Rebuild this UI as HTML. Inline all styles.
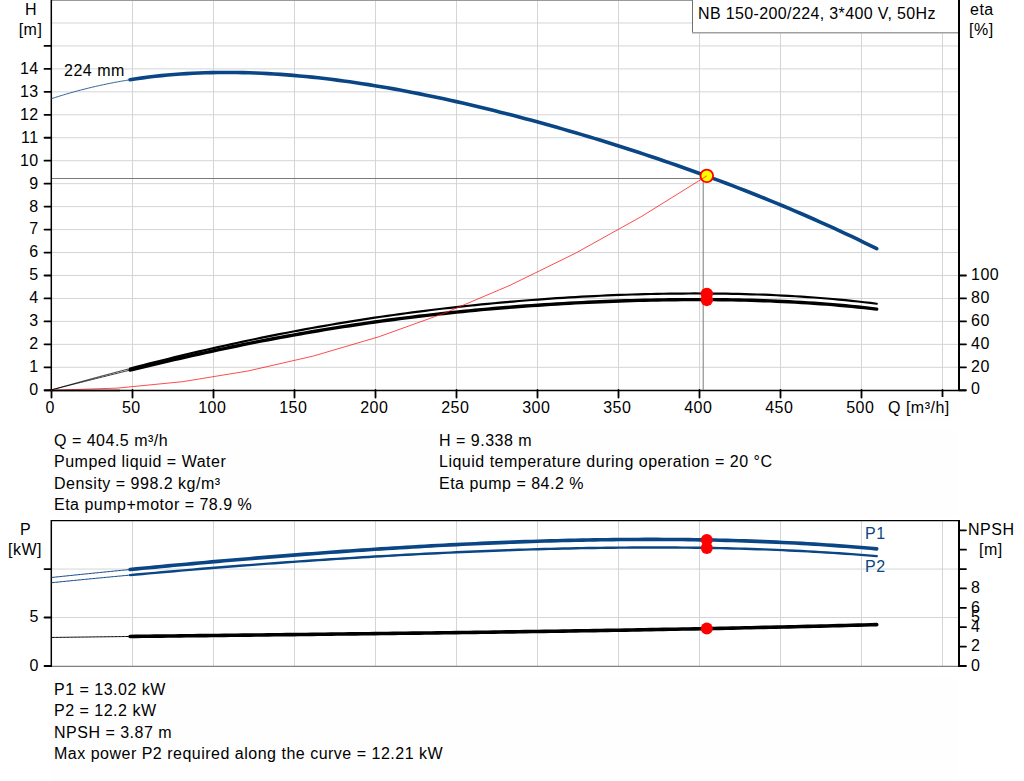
<!DOCTYPE html>
<html><head><meta charset="utf-8"><style>
html,body{margin:0;padding:0;background:#fff;width:1024px;height:781px;overflow:hidden}
svg{display:block}
text{font-family:"Liberation Sans",sans-serif;font-size:16px;letter-spacing:0.5px}
</style></head><body>
<svg width="1024" height="781" viewBox="0 0 1024 781">
<line x1="52" y1="367.31" x2="958" y2="367.31" stroke="#d3d5d7" stroke-width="1"/>
<line x1="52" y1="344.36" x2="958" y2="344.36" stroke="#d3d5d7" stroke-width="1"/>
<line x1="52" y1="321.4" x2="958" y2="321.4" stroke="#d3d5d7" stroke-width="1"/>
<line x1="52" y1="298.45" x2="958" y2="298.45" stroke="#d3d5d7" stroke-width="1"/>
<line x1="52" y1="275.49" x2="958" y2="275.49" stroke="#d3d5d7" stroke-width="1"/>
<line x1="52" y1="252.53" x2="958" y2="252.53" stroke="#d3d5d7" stroke-width="1"/>
<line x1="52" y1="229.58" x2="958" y2="229.58" stroke="#d3d5d7" stroke-width="1"/>
<line x1="52" y1="206.62" x2="958" y2="206.62" stroke="#d3d5d7" stroke-width="1"/>
<line x1="52" y1="183.67" x2="958" y2="183.67" stroke="#d3d5d7" stroke-width="1"/>
<line x1="52" y1="160.71" x2="958" y2="160.71" stroke="#d3d5d7" stroke-width="1"/>
<line x1="52" y1="137.75" x2="958" y2="137.75" stroke="#d3d5d7" stroke-width="1"/>
<line x1="52" y1="114.8" x2="958" y2="114.8" stroke="#d3d5d7" stroke-width="1"/>
<line x1="52" y1="91.84" x2="958" y2="91.84" stroke="#d3d5d7" stroke-width="1"/>
<line x1="52" y1="68.89" x2="958" y2="68.89" stroke="#d3d5d7" stroke-width="1"/>
<line x1="52" y1="45.93" x2="958" y2="45.93" stroke="#d3d5d7" stroke-width="1"/>
<line x1="52" y1="22.97" x2="692" y2="22.97" stroke="#d3d5d7" stroke-width="1"/>
<line x1="132.5" y1="1" x2="132.5" y2="390" stroke="#d3d5d7" stroke-width="1"/>
<line x1="213.5" y1="1" x2="213.5" y2="390" stroke="#d3d5d7" stroke-width="1"/>
<line x1="294.5" y1="1" x2="294.5" y2="390" stroke="#d3d5d7" stroke-width="1"/>
<line x1="375.5" y1="1" x2="375.5" y2="390" stroke="#d3d5d7" stroke-width="1"/>
<line x1="456.5" y1="1" x2="456.5" y2="390" stroke="#d3d5d7" stroke-width="1"/>
<line x1="537.5" y1="1" x2="537.5" y2="390" stroke="#d3d5d7" stroke-width="1"/>
<line x1="618.5" y1="1" x2="618.5" y2="390" stroke="#d3d5d7" stroke-width="1"/>
<line x1="699.5" y1="33" x2="699.5" y2="390" stroke="#d3d5d7" stroke-width="1"/>
<line x1="780.5" y1="33" x2="780.5" y2="390" stroke="#d3d5d7" stroke-width="1"/>
<line x1="861.5" y1="33" x2="861.5" y2="390" stroke="#d3d5d7" stroke-width="1"/>
<line x1="942.5" y1="33" x2="942.5" y2="390" stroke="#d3d5d7" stroke-width="1"/>
<line x1="51" y1="0.5" x2="959" y2="0.5" stroke="#9a9a9a" stroke-width="1"/>
<rect x="692" y="0" width="266" height="33" fill="#fff"/>
<line x1="692.5" y1="0" x2="692.5" y2="33" stroke="#707070" stroke-width="1"/>
<line x1="692" y1="32.8" x2="958" y2="32.8" stroke="#a0a0a0" stroke-width="1.4"/>
<text x="698" y="19" font-family="Liberation Sans, sans-serif" font-size="16" style="letter-spacing:0.37px">NB 150-200/224, 3*400 V, 50Hz</text>
<line x1="51.3" y1="0" x2="51.3" y2="391" stroke="#000" stroke-width="1.5"/>
<line x1="44" y1="390.5" x2="966" y2="390.5" stroke="#000" stroke-width="1.5"/>
<line x1="959" y1="0" x2="959" y2="391" stroke="#000" stroke-width="2"/>
<line x1="44.5" y1="390.27" x2="51" y2="390.27" stroke="#000" stroke-width="1.8" stroke-linecap="round"/>
<text x="38.7" y="394.60" font-family="Liberation Sans, sans-serif" font-size="16" text-anchor="end">0</text>
<line x1="44.5" y1="367.31" x2="51" y2="367.31" stroke="#000" stroke-width="1.8" stroke-linecap="round"/>
<text x="38.7" y="371.71" font-family="Liberation Sans, sans-serif" font-size="16" text-anchor="end">1</text>
<line x1="44.5" y1="344.36" x2="51" y2="344.36" stroke="#000" stroke-width="1.8" stroke-linecap="round"/>
<text x="38.7" y="348.83" font-family="Liberation Sans, sans-serif" font-size="16" text-anchor="end">2</text>
<line x1="44.5" y1="321.4" x2="51" y2="321.4" stroke="#000" stroke-width="1.8" stroke-linecap="round"/>
<text x="38.7" y="325.94" font-family="Liberation Sans, sans-serif" font-size="16" text-anchor="end">3</text>
<line x1="44.5" y1="298.45" x2="51" y2="298.45" stroke="#000" stroke-width="1.8" stroke-linecap="round"/>
<text x="38.7" y="303.06" font-family="Liberation Sans, sans-serif" font-size="16" text-anchor="end">4</text>
<line x1="44.5" y1="275.49" x2="51" y2="275.49" stroke="#000" stroke-width="1.8" stroke-linecap="round"/>
<text x="38.7" y="280.17" font-family="Liberation Sans, sans-serif" font-size="16" text-anchor="end">5</text>
<line x1="44.5" y1="252.53" x2="51" y2="252.53" stroke="#000" stroke-width="1.8" stroke-linecap="round"/>
<text x="38.7" y="257.28" font-family="Liberation Sans, sans-serif" font-size="16" text-anchor="end">6</text>
<line x1="44.5" y1="229.58" x2="51" y2="229.58" stroke="#000" stroke-width="1.8" stroke-linecap="round"/>
<text x="38.7" y="234.40" font-family="Liberation Sans, sans-serif" font-size="16" text-anchor="end">7</text>
<line x1="44.5" y1="206.62" x2="51" y2="206.62" stroke="#000" stroke-width="1.8" stroke-linecap="round"/>
<text x="38.7" y="211.51" font-family="Liberation Sans, sans-serif" font-size="16" text-anchor="end">8</text>
<line x1="44.5" y1="183.67" x2="51" y2="183.67" stroke="#000" stroke-width="1.8" stroke-linecap="round"/>
<text x="38.7" y="188.63" font-family="Liberation Sans, sans-serif" font-size="16" text-anchor="end">9</text>
<line x1="44.5" y1="160.71" x2="51" y2="160.71" stroke="#000" stroke-width="1.8" stroke-linecap="round"/>
<text x="38.7" y="165.74" font-family="Liberation Sans, sans-serif" font-size="16" text-anchor="end">10</text>
<line x1="44.5" y1="137.75" x2="51" y2="137.75" stroke="#000" stroke-width="1.8" stroke-linecap="round"/>
<text x="38.7" y="142.85" font-family="Liberation Sans, sans-serif" font-size="16" text-anchor="end">11</text>
<line x1="44.5" y1="114.8" x2="51" y2="114.8" stroke="#000" stroke-width="1.8" stroke-linecap="round"/>
<text x="38.7" y="119.97" font-family="Liberation Sans, sans-serif" font-size="16" text-anchor="end">12</text>
<line x1="44.5" y1="91.84" x2="51" y2="91.84" stroke="#000" stroke-width="1.8" stroke-linecap="round"/>
<text x="38.7" y="97.08" font-family="Liberation Sans, sans-serif" font-size="16" text-anchor="end">13</text>
<line x1="44.5" y1="68.89" x2="51" y2="68.89" stroke="#000" stroke-width="1.8" stroke-linecap="round"/>
<text x="38.7" y="74.20" font-family="Liberation Sans, sans-serif" font-size="16" text-anchor="end">14</text>
<line x1="44.5" y1="45.93" x2="51" y2="45.93" stroke="#000" stroke-width="1.8" stroke-linecap="round"/>
<text x="31" y="15" font-family="Liberation Sans, sans-serif" font-size="16" text-anchor="middle">H</text>
<text x="30.5" y="35" font-family="Liberation Sans, sans-serif" font-size="16" text-anchor="middle">[m]</text>
<line x1="51.5" y1="390" x2="51.5" y2="397.6" stroke="#000" stroke-width="1.8" stroke-linecap="round"/>
<text x="50.3" y="413" font-family="Liberation Sans, sans-serif" font-size="16" text-anchor="middle">0</text>
<line x1="132.5" y1="390" x2="132.5" y2="397.6" stroke="#000" stroke-width="1.8" stroke-linecap="round"/>
<text x="131.3" y="413" font-family="Liberation Sans, sans-serif" font-size="16" text-anchor="middle">50</text>
<line x1="213.5" y1="390" x2="213.5" y2="397.6" stroke="#000" stroke-width="1.8" stroke-linecap="round"/>
<text x="212.3" y="413" font-family="Liberation Sans, sans-serif" font-size="16" text-anchor="middle">100</text>
<line x1="294.5" y1="390" x2="294.5" y2="397.6" stroke="#000" stroke-width="1.8" stroke-linecap="round"/>
<text x="293.3" y="413" font-family="Liberation Sans, sans-serif" font-size="16" text-anchor="middle">150</text>
<line x1="375.5" y1="390" x2="375.5" y2="397.6" stroke="#000" stroke-width="1.8" stroke-linecap="round"/>
<text x="374.3" y="413" font-family="Liberation Sans, sans-serif" font-size="16" text-anchor="middle">200</text>
<line x1="456.5" y1="390" x2="456.5" y2="397.6" stroke="#000" stroke-width="1.8" stroke-linecap="round"/>
<text x="455.3" y="413" font-family="Liberation Sans, sans-serif" font-size="16" text-anchor="middle">250</text>
<line x1="537.5" y1="390" x2="537.5" y2="397.6" stroke="#000" stroke-width="1.8" stroke-linecap="round"/>
<text x="536.3" y="413" font-family="Liberation Sans, sans-serif" font-size="16" text-anchor="middle">300</text>
<line x1="618.5" y1="390" x2="618.5" y2="397.6" stroke="#000" stroke-width="1.8" stroke-linecap="round"/>
<text x="617.3" y="413" font-family="Liberation Sans, sans-serif" font-size="16" text-anchor="middle">350</text>
<line x1="699.5" y1="390" x2="699.5" y2="397.6" stroke="#000" stroke-width="1.8" stroke-linecap="round"/>
<text x="698.3" y="413" font-family="Liberation Sans, sans-serif" font-size="16" text-anchor="middle">400</text>
<line x1="780.5" y1="390" x2="780.5" y2="397.6" stroke="#000" stroke-width="1.8" stroke-linecap="round"/>
<text x="779.3" y="413" font-family="Liberation Sans, sans-serif" font-size="16" text-anchor="middle">450</text>
<line x1="861.5" y1="390" x2="861.5" y2="397.6" stroke="#000" stroke-width="1.8" stroke-linecap="round"/>
<text x="860.3" y="413" font-family="Liberation Sans, sans-serif" font-size="16" text-anchor="middle">500</text>
<line x1="942.5" y1="390" x2="942.5" y2="397.6" stroke="#000" stroke-width="1.8" stroke-linecap="round"/>
<rect x="886" y="397" width="70" height="23" fill="#fefefe"/>
<text x="888" y="413" font-family="Liberation Sans, sans-serif" font-size="16">Q [m³/h]</text>
<line x1="959" y1="390.27" x2="966" y2="390.27" stroke="#000" stroke-width="1.8" stroke-linecap="round"/>
<text x="971" y="394.47" font-family="Liberation Sans, sans-serif" font-size="16">0</text>
<line x1="959" y1="367.31" x2="966" y2="367.31" stroke="#000" stroke-width="1.8" stroke-linecap="round"/>
<text x="971" y="371.51" font-family="Liberation Sans, sans-serif" font-size="16">20</text>
<line x1="959" y1="344.36" x2="966" y2="344.36" stroke="#000" stroke-width="1.8" stroke-linecap="round"/>
<text x="971" y="348.56" font-family="Liberation Sans, sans-serif" font-size="16">40</text>
<line x1="959" y1="321.4" x2="966" y2="321.4" stroke="#000" stroke-width="1.8" stroke-linecap="round"/>
<text x="971" y="325.60" font-family="Liberation Sans, sans-serif" font-size="16">60</text>
<line x1="959" y1="298.45" x2="966" y2="298.45" stroke="#000" stroke-width="1.8" stroke-linecap="round"/>
<text x="971" y="302.65" font-family="Liberation Sans, sans-serif" font-size="16">80</text>
<line x1="959" y1="275.49" x2="966" y2="275.49" stroke="#000" stroke-width="1.8" stroke-linecap="round"/>
<text x="971" y="279.69" font-family="Liberation Sans, sans-serif" font-size="16">100</text>
<text x="970" y="15" font-family="Liberation Sans, sans-serif" font-size="16">eta</text>
<text x="969" y="35" font-family="Liberation Sans, sans-serif" font-size="16">[%]</text>
<line x1="52" y1="178.5" x2="700" y2="178.5" stroke="#7a7a7a" stroke-width="1"/>
<line x1="703.2" y1="178" x2="703.2" y2="390" stroke="#7a7a7a" stroke-width="1"/>
<path d="M51.50,98.68 L52.87,98.23 L54.25,97.79 L55.62,97.35 L56.99,96.91 L58.36,96.48 L59.74,96.05 L61.11,95.63 L62.48,95.21 L63.86,94.80 L65.23,94.39 L66.60,93.98 L67.97,93.58 L69.35,93.18 L70.72,92.79 L72.09,92.40 L73.47,92.02 L74.84,91.64 L76.21,91.26 L77.58,90.89 L78.96,90.53 L80.33,90.16 L81.70,89.81 L83.08,89.45 L84.45,89.10 L85.82,88.76 L87.19,88.42 L88.57,88.08 L89.94,87.74 L91.31,87.42 L92.69,87.09 L94.06,86.77 L95.43,86.45 L96.81,86.14 L98.18,85.83 L99.55,85.52 L100.92,85.22 L102.30,84.93 L103.67,84.63 L105.04,84.34 L106.42,84.06 L107.79,83.78 L109.16,83.50 L110.53,83.23 L111.91,82.96 L113.28,82.69 L114.65,82.43 L116.03,82.17 L117.40,81.91 L118.77,81.66 L120.14,81.42 L121.52,81.17 L122.89,80.93 L124.26,80.70 L125.64,80.46 L127.01,80.24 L128.38,80.01 L129.75,79.79 L131.13,79.57 L132.50,79.36" fill="none" stroke="#0a4685" stroke-width="0.85"/>
<path d="M130.07,79.74 L136.34,78.78 L142.62,77.89 L148.89,77.07 L155.17,76.33 L161.44,75.65 L167.72,75.05 L173.99,74.51 L180.27,74.04 L186.54,73.63 L192.81,73.28 L199.09,73.00 L205.36,72.78 L211.64,72.61 L217.91,72.51 L224.19,72.46 L230.46,72.47 L236.74,72.53 L243.01,72.65 L249.28,72.82 L255.56,73.04 L261.83,73.31 L268.11,73.63 L274.38,73.99 L280.66,74.41 L286.93,74.87 L293.21,75.38 L299.48,75.93 L305.75,76.52 L312.03,77.16 L318.30,77.83 L324.58,78.55 L330.85,79.31 L337.13,80.11 L343.40,80.94 L349.68,81.81 L355.95,82.72 L362.22,83.66 L368.50,84.64 L374.77,85.66 L381.05,86.70 L387.32,87.78 L393.60,88.89 L399.87,90.03 L406.15,91.21 L412.42,92.41 L418.69,93.64 L424.97,94.91 L431.24,96.20 L437.52,97.52 L443.79,98.86 L450.07,100.24 L456.34,101.63 L462.62,103.06 L468.89,104.51 L475.16,105.99 L481.44,107.49 L487.71,109.01 L493.99,110.56 L500.26,112.14 L506.54,113.73 L512.81,115.35 L519.09,116.99 L525.36,118.66 L531.63,120.35 L537.91,122.06 L544.18,123.79 L550.46,125.54 L556.73,127.31 L563.01,129.11 L569.28,130.93 L575.56,132.76 L581.83,134.62 L588.10,136.50 L594.38,138.40 L600.65,140.33 L606.93,142.27 L613.20,144.23 L619.48,146.22 L625.75,148.22 L632.02,150.25 L638.30,152.30 L644.57,154.37 L650.85,156.46 L657.12,158.57 L663.40,160.71 L669.67,162.86 L675.95,165.04 L682.22,167.24 L688.49,169.46 L694.77,171.71 L701.04,173.98 L707.32,176.27 L713.59,178.59 L719.87,180.93 L726.14,183.29 L732.42,185.68 L738.69,188.10 L744.96,190.54 L751.24,193.01 L757.51,195.50 L763.79,198.02 L770.06,200.57 L776.34,203.15 L782.61,205.75 L788.89,208.39 L795.16,211.05 L801.43,213.75 L807.71,216.48 L813.98,219.23 L820.26,222.02 L826.53,224.85 L832.81,227.70 L839.08,230.59 L845.36,233.52 L851.63,236.48 L857.90,239.48 L864.18,242.52 L870.45,245.59 L876.73,248.71" fill="none" stroke="#0a4685" stroke-width="3.6" stroke-linecap="round"/>
<text x="64" y="76" font-family="Liberation Sans, sans-serif" font-size="16">224 mm</text>
<path d="M51.50,389.90 L52.87,389.52 L54.25,389.13 L55.62,388.75 L56.99,388.36 L58.36,387.98 L59.74,387.59 L61.11,387.21 L62.48,386.83 L63.86,386.44 L65.23,386.06 L66.60,385.68 L67.97,385.30 L69.35,384.91 L70.72,384.53 L72.09,384.15 L73.47,383.77 L74.84,383.39 L76.21,383.01 L77.58,382.63 L78.96,382.25 L80.33,381.88 L81.70,381.50 L83.08,381.12 L84.45,380.74 L85.82,380.37 L87.19,379.99 L88.57,379.61 L89.94,379.24 L91.31,378.87 L92.69,378.49 L94.06,378.12 L95.43,377.74 L96.81,377.37 L98.18,377.00 L99.55,376.63 L100.92,376.26 L102.30,375.89 L103.67,375.52 L105.04,375.15 L106.42,374.78 L107.79,374.41 L109.16,374.04 L110.53,373.68 L111.91,373.31 L113.28,372.94 L114.65,372.58 L116.03,372.22 L117.40,371.85 L118.77,371.49 L120.14,371.12 L121.52,370.76 L122.89,370.40 L124.26,370.04 L125.64,369.68 L127.01,369.32 L128.38,368.96 L129.75,368.60 L131.13,368.24 L132.50,367.89" fill="none" stroke="#000" stroke-width="0.8"/>
<path d="M51.50,389.83 L52.87,389.48 L54.25,389.13 L55.62,388.78 L56.99,388.43 L58.36,388.09 L59.74,387.74 L61.11,387.39 L62.48,387.04 L63.86,386.69 L65.23,386.35 L66.60,386.00 L67.97,385.65 L69.35,385.30 L70.72,384.95 L72.09,384.61 L73.47,384.26 L74.84,383.91 L76.21,383.56 L77.58,383.22 L78.96,382.87 L80.33,382.52 L81.70,382.18 L83.08,381.83 L84.45,381.48 L85.82,381.14 L87.19,380.79 L88.57,380.45 L89.94,380.10 L91.31,379.75 L92.69,379.41 L94.06,379.06 L95.43,378.72 L96.81,378.38 L98.18,378.03 L99.55,377.69 L100.92,377.34 L102.30,377.00 L103.67,376.66 L105.04,376.32 L106.42,375.97 L107.79,375.63 L109.16,375.29 L110.53,374.95 L111.91,374.61 L113.28,374.27 L114.65,373.93 L116.03,373.59 L117.40,373.25 L118.77,372.91 L120.14,372.57 L121.52,372.23 L122.89,371.89 L124.26,371.56 L125.64,371.22 L127.01,370.88 L128.38,370.55 L129.75,370.21 L131.13,369.88 L132.50,369.54" fill="none" stroke="#000" stroke-width="0.8"/>
<path d="M130.07,368.52 L136.34,366.89 L142.62,365.28 L148.89,363.68 L155.17,362.09 L161.44,360.52 L167.72,358.97 L173.99,357.43 L180.27,355.90 L186.54,354.40 L192.81,352.91 L199.09,351.43 L205.36,349.98 L211.64,348.54 L217.91,347.12 L224.19,345.72 L230.46,344.33 L236.74,342.97 L243.01,341.62 L249.28,340.29 L255.56,338.98 L261.83,337.69 L268.11,336.42 L274.38,335.16 L280.66,333.93 L286.93,332.71 L293.21,331.51 L299.48,330.34 L305.75,329.18 L312.03,328.04 L318.30,326.92 L324.58,325.82 L330.85,324.73 L337.13,323.67 L343.40,322.63 L349.68,321.60 L355.95,320.60 L362.22,319.61 L368.50,318.65 L374.77,317.70 L381.05,316.77 L387.32,315.86 L393.60,314.97 L399.87,314.10 L406.15,313.24 L412.42,312.41 L418.69,311.59 L424.97,310.80 L431.24,310.02 L437.52,309.26 L443.79,308.51 L450.07,307.79 L456.34,307.08 L462.62,306.40 L468.89,305.73 L475.16,305.07 L481.44,304.44 L487.71,303.82 L493.99,303.23 L500.26,302.65 L506.54,302.08 L512.81,301.54 L519.09,301.01 L525.36,300.50 L531.63,300.01 L537.91,299.53 L544.18,299.08 L550.46,298.64 L556.73,298.21 L563.01,297.81 L569.28,297.42 L575.56,297.05 L581.83,296.70 L588.10,296.37 L594.38,296.05 L600.65,295.75 L606.93,295.47 L613.20,295.21 L619.48,294.96 L625.75,294.73 L632.02,294.52 L638.30,294.33 L644.57,294.16 L650.85,294.01 L657.12,293.87 L663.40,293.76 L669.67,293.66 L675.95,293.58 L682.22,293.53 L688.49,293.49 L694.77,293.47 L701.04,293.48 L707.32,293.50 L713.59,293.55 L719.87,293.61 L726.14,293.70 L732.42,293.81 L738.69,293.95 L744.96,294.10 L751.24,294.29 L757.51,294.49 L763.79,294.72 L770.06,294.97 L776.34,295.25 L782.61,295.56 L788.89,295.89 L795.16,296.25 L801.43,296.64 L807.71,297.06 L813.98,297.50 L820.26,297.98 L826.53,298.49 L832.81,299.02 L839.08,299.60 L845.36,300.20 L851.63,300.84 L857.90,301.51 L864.18,302.22 L870.45,302.96 L876.73,303.74" fill="none" stroke="#000" stroke-width="2.2" stroke-linecap="round"/>
<path d="M130.07,370.14 L136.34,368.61 L142.62,367.09 L148.89,365.59 L155.17,364.09 L161.44,362.61 L167.72,361.15 L173.99,359.69 L180.27,358.25 L186.54,356.82 L192.81,355.41 L199.09,354.01 L205.36,352.63 L211.64,351.26 L217.91,349.91 L224.19,348.58 L230.46,347.26 L236.74,345.97 L243.01,344.68 L249.28,343.42 L255.56,342.17 L261.83,340.94 L268.11,339.73 L274.38,338.54 L280.66,337.37 L286.93,336.21 L293.21,335.08 L299.48,333.96 L305.75,332.86 L312.03,331.78 L318.30,330.72 L324.58,329.67 L330.85,328.65 L337.13,327.65 L343.40,326.66 L349.68,325.70 L355.95,324.75 L362.22,323.82 L368.50,322.91 L374.77,322.02 L381.05,321.15 L387.32,320.30 L393.60,319.46 L399.87,318.65 L406.15,317.85 L412.42,317.07 L418.69,316.31 L424.97,315.57 L431.24,314.84 L437.52,314.13 L443.79,313.45 L450.07,312.77 L456.34,312.12 L462.62,311.48 L468.89,310.87 L475.16,310.26 L481.44,309.68 L487.71,309.11 L493.99,308.56 L500.26,308.03 L506.54,307.51 L512.81,307.01 L519.09,306.53 L525.36,306.06 L531.63,305.61 L537.91,305.18 L544.18,304.76 L550.46,304.36 L556.73,303.97 L563.01,303.60 L569.28,303.25 L575.56,302.91 L581.83,302.59 L588.10,302.28 L594.38,301.99 L600.65,301.72 L606.93,301.46 L613.20,301.22 L619.48,300.99 L625.75,300.79 L632.02,300.59 L638.30,300.42 L644.57,300.26 L650.85,300.11 L657.12,299.99 L663.40,299.88 L669.67,299.79 L675.95,299.71 L682.22,299.66 L688.49,299.62 L694.77,299.60 L701.04,299.60 L707.32,299.62 L713.59,299.65 L719.87,299.71 L726.14,299.79 L732.42,299.88 L738.69,300.00 L744.96,300.14 L751.24,300.30 L757.51,300.49 L763.79,300.69 L770.06,300.92 L776.34,301.18 L782.61,301.45 L788.89,301.76 L795.16,302.09 L801.43,302.45 L807.71,302.83 L813.98,303.24 L820.26,303.69 L826.53,304.16 L832.81,304.66 L839.08,305.20 L845.36,305.77 L851.63,306.37 L857.90,307.01 L864.18,307.68 L870.45,308.39 L876.73,309.14" fill="none" stroke="#000" stroke-width="3.4" stroke-linecap="round"/>
<circle cx="706.79" cy="175.83" r="6.3" fill="#ffff00" stroke="#ff0000" stroke-width="1.8"/>
<path d="M51.50,390.27 L117.03,388.13 L182.56,381.70 L248.09,370.98 L313.62,355.97 L379.15,336.68 L444.67,313.10 L510.20,285.23 L575.73,253.08 L641.26,216.64 L706.79,175.91" fill="none" stroke="#ff1010" stroke-width="0.75"/>
<line x1="52" y1="390.5" x2="120" y2="390.5" stroke="#000" stroke-width="1.5"/>
<circle cx="706.79" cy="293.85" r="6.2" fill="#ff0000"/>
<circle cx="706.79" cy="299.93" r="6.2" fill="#ff0000"/>
<rect x="51" y="430" width="907" height="86" fill="#fefefe"/>
<text x="54" y="446.0" font-family="Liberation Sans, sans-serif" font-size="16">Q = 404.5 m³/h</text>
<text x="54" y="467.3" font-family="Liberation Sans, sans-serif" font-size="16">Pumped liquid = Water</text>
<text x="54" y="488.6" font-family="Liberation Sans, sans-serif" font-size="16">Density = 998.2 kg/m³</text>
<text x="54" y="509.9" font-family="Liberation Sans, sans-serif" font-size="16">Eta pump+motor = 78.9 %</text>
<text x="439" y="446.0" font-family="Liberation Sans, sans-serif" font-size="16">H = 9.338 m</text>
<text x="439" y="467.3" font-family="Liberation Sans, sans-serif" font-size="16">Liquid temperature during operation = 20 °C</text>
<text x="439" y="488.6" font-family="Liberation Sans, sans-serif" font-size="16">Eta pump = 84.2 %</text>
<line x1="52" y1="617.5" x2="958" y2="617.5" stroke="#d3d5d7" stroke-width="1"/>
<line x1="52" y1="569.05" x2="958" y2="569.05" stroke="#d3d5d7" stroke-width="1"/>
<line x1="132.5" y1="521" x2="132.5" y2="666" stroke="#d3d5d7" stroke-width="1"/>
<line x1="213.5" y1="521" x2="213.5" y2="666" stroke="#d3d5d7" stroke-width="1"/>
<line x1="294.5" y1="521" x2="294.5" y2="666" stroke="#d3d5d7" stroke-width="1"/>
<line x1="375.5" y1="521" x2="375.5" y2="666" stroke="#d3d5d7" stroke-width="1"/>
<line x1="456.5" y1="521" x2="456.5" y2="666" stroke="#d3d5d7" stroke-width="1"/>
<line x1="537.5" y1="521" x2="537.5" y2="666" stroke="#d3d5d7" stroke-width="1"/>
<line x1="618.5" y1="521" x2="618.5" y2="666" stroke="#d3d5d7" stroke-width="1"/>
<line x1="699.5" y1="521" x2="699.5" y2="666" stroke="#d3d5d7" stroke-width="1"/>
<line x1="780.5" y1="521" x2="780.5" y2="666" stroke="#d3d5d7" stroke-width="1"/>
<line x1="861.5" y1="521" x2="861.5" y2="666" stroke="#d3d5d7" stroke-width="1"/>
<line x1="942.5" y1="521" x2="942.5" y2="666" stroke="#d3d5d7" stroke-width="1"/>
<line x1="51" y1="520.7" x2="959" y2="520.7" stroke="#000" stroke-width="1.3"/>
<line x1="51" y1="666.4" x2="959" y2="666.4" stroke="#808080" stroke-width="1.3"/>
<line x1="51.3" y1="520" x2="51.3" y2="667" stroke="#000" stroke-width="1.5"/>
<line x1="959" y1="520" x2="959" y2="667" stroke="#000" stroke-width="2"/>
<line x1="44.5" y1="666.0" x2="51" y2="666.0" stroke="#000" stroke-width="1.8" stroke-linecap="round"/>
<line x1="44.5" y1="617.5" x2="51" y2="617.5" stroke="#000" stroke-width="1.8" stroke-linecap="round"/>
<line x1="44.5" y1="569.1" x2="51" y2="569.1" stroke="#000" stroke-width="1.8" stroke-linecap="round"/>
<text x="38.8" y="622.3" font-family="Liberation Sans, sans-serif" font-size="16" text-anchor="end">5</text>
<text x="38.8" y="670.6" font-family="Liberation Sans, sans-serif" font-size="16" text-anchor="end">0</text>
<text x="25.5" y="535" font-family="Liberation Sans, sans-serif" font-size="16" text-anchor="middle">P</text>
<text x="25" y="555" font-family="Liberation Sans, sans-serif" font-size="16" text-anchor="middle">[kW]</text>
<line x1="959" y1="666.0" x2="966" y2="666.0" stroke="#000" stroke-width="1.8" stroke-linecap="round"/>
<line x1="959" y1="646.6" x2="966" y2="646.6" stroke="#000" stroke-width="1.8" stroke-linecap="round"/>
<line x1="959" y1="627.2" x2="966" y2="627.2" stroke="#000" stroke-width="1.8" stroke-linecap="round"/>
<line x1="959" y1="607.8" x2="966" y2="607.8" stroke="#000" stroke-width="1.8" stroke-linecap="round"/>
<line x1="959" y1="588.4" x2="966" y2="588.4" stroke="#000" stroke-width="1.8" stroke-linecap="round"/>
<line x1="959" y1="569.1" x2="966" y2="569.1" stroke="#000" stroke-width="1.8" stroke-linecap="round"/>
<line x1="959" y1="549.7" x2="966" y2="549.7" stroke="#000" stroke-width="1.8" stroke-linecap="round"/>
<line x1="959" y1="530.3" x2="966" y2="530.3" stroke="#000" stroke-width="1.8" stroke-linecap="round"/>
<text x="971" y="593.2" font-family="Liberation Sans, sans-serif" font-size="16">8</text>
<text x="971" y="612.5" font-family="Liberation Sans, sans-serif" font-size="16">6</text>
<text x="971" y="631.9" font-family="Liberation Sans, sans-serif" font-size="16">4</text>
<text x="971" y="651.2" font-family="Liberation Sans, sans-serif" font-size="16">2</text>
<text x="971" y="670.6" font-family="Liberation Sans, sans-serif" font-size="16">0</text>
<text x="971" y="622.0" font-family="Liberation Sans, sans-serif" font-size="16">5</text>
<text x="968" y="535" font-family="Liberation Sans, sans-serif" font-size="16">NPSH</text>
<text x="979" y="555" font-family="Liberation Sans, sans-serif" font-size="16">[m]</text>
<path d="M51.50,577.50 L52.87,577.35 L54.25,577.21 L55.62,577.06 L56.99,576.92 L58.36,576.77 L59.74,576.63 L61.11,576.49 L62.48,576.34 L63.86,576.20 L65.23,576.06 L66.60,575.91 L67.97,575.77 L69.35,575.63 L70.72,575.49 L72.09,575.34 L73.47,575.20 L74.84,575.06 L76.21,574.92 L77.58,574.78 L78.96,574.64 L80.33,574.49 L81.70,574.35 L83.08,574.21 L84.45,574.07 L85.82,573.93 L87.19,573.79 L88.57,573.65 L89.94,573.51 L91.31,573.37 L92.69,573.23 L94.06,573.09 L95.43,572.95 L96.81,572.82 L98.18,572.68 L99.55,572.54 L100.92,572.40 L102.30,572.26 L103.67,572.12 L105.04,571.99 L106.42,571.85 L107.79,571.71 L109.16,571.58 L110.53,571.44 L111.91,571.30 L113.28,571.17 L114.65,571.03 L116.03,570.89 L117.40,570.76 L118.77,570.62 L120.14,570.49 L121.52,570.35 L122.89,570.21 L124.26,570.08 L125.64,569.95 L127.01,569.81 L128.38,569.68 L129.75,569.54 L131.13,569.41 L132.50,569.27" fill="none" stroke="#0a4685" stroke-width="1"/>
<path d="M51.50,582.73 L52.87,582.59 L54.25,582.45 L55.62,582.31 L56.99,582.17 L58.36,582.03 L59.74,581.89 L61.11,581.75 L62.48,581.61 L63.86,581.47 L65.23,581.33 L66.60,581.19 L67.97,581.06 L69.35,580.92 L70.72,580.78 L72.09,580.64 L73.47,580.51 L74.84,580.37 L76.21,580.24 L77.58,580.10 L78.96,579.96 L80.33,579.83 L81.70,579.69 L83.08,579.56 L84.45,579.42 L85.82,579.29 L87.19,579.16 L88.57,579.02 L89.94,578.89 L91.31,578.76 L92.69,578.62 L94.06,578.49 L95.43,578.36 L96.81,578.23 L98.18,578.09 L99.55,577.96 L100.92,577.83 L102.30,577.70 L103.67,577.57 L105.04,577.44 L106.42,577.31 L107.79,577.18 L109.16,577.05 L110.53,576.92 L111.91,576.79 L113.28,576.66 L114.65,576.53 L116.03,576.40 L117.40,576.27 L118.77,576.14 L120.14,576.02 L121.52,575.89 L122.89,575.76 L124.26,575.63 L125.64,575.51 L127.01,575.38 L128.38,575.25 L129.75,575.13 L131.13,575.00 L132.50,574.88" fill="none" stroke="#0a4685" stroke-width="1"/>
<path d="M130.07,569.51 L136.34,568.90 L142.62,568.29 L148.89,567.69 L155.17,567.10 L161.44,566.50 L167.72,565.91 L173.99,565.33 L180.27,564.75 L186.54,564.17 L192.81,563.60 L199.09,563.03 L205.36,562.47 L211.64,561.91 L217.91,561.36 L224.19,560.81 L230.46,560.27 L236.74,559.73 L243.01,559.20 L249.28,558.67 L255.56,558.15 L261.83,557.63 L268.11,557.12 L274.38,556.61 L280.66,556.11 L286.93,555.61 L293.21,555.12 L299.48,554.64 L305.75,554.16 L312.03,553.68 L318.30,553.22 L324.58,552.75 L330.85,552.30 L337.13,551.85 L343.40,551.40 L349.68,550.97 L355.95,550.54 L362.22,550.11 L368.50,549.69 L374.77,549.28 L381.05,548.88 L387.32,548.48 L393.60,548.09 L399.87,547.70 L406.15,547.33 L412.42,546.96 L418.69,546.59 L424.97,546.24 L431.24,545.89 L437.52,545.55 L443.79,545.22 L450.07,544.89 L456.34,544.58 L462.62,544.27 L468.89,543.97 L475.16,543.68 L481.44,543.39 L487.71,543.12 L493.99,542.85 L500.26,542.59 L506.54,542.35 L512.81,542.11 L519.09,541.88 L525.36,541.65 L531.63,541.44 L537.91,541.24 L544.18,541.05 L550.46,540.87 L556.73,540.69 L563.01,540.53 L569.28,540.38 L575.56,540.24 L581.83,540.11 L588.10,539.99 L594.38,539.88 L600.65,539.78 L606.93,539.69 L613.20,539.62 L619.48,539.55 L625.75,539.50 L632.02,539.46 L638.30,539.43 L644.57,539.41 L650.85,539.41 L657.12,539.41 L663.40,539.43 L669.67,539.47 L675.95,539.51 L682.22,539.57 L688.49,539.64 L694.77,539.73 L701.04,539.83 L707.32,539.94 L713.59,540.07 L719.87,540.21 L726.14,540.37 L732.42,540.54 L738.69,540.72 L744.96,540.92 L751.24,541.13 L757.51,541.36 L763.79,541.61 L770.06,541.87 L776.34,542.15 L782.61,542.44 L788.89,542.75 L795.16,543.07 L801.43,543.41 L807.71,543.77 L813.98,544.15 L820.26,544.54 L826.53,544.95 L832.81,545.38 L839.08,545.83 L845.36,546.29 L851.63,546.77 L857.90,547.27 L864.18,547.79 L870.45,548.33 L876.73,548.88" fill="none" stroke="#0a4685" stroke-width="3.6" stroke-linecap="round"/>
<path d="M130.07,575.10 L136.34,574.53 L142.62,573.96 L148.89,573.39 L155.17,572.84 L161.44,572.28 L167.72,571.74 L173.99,571.19 L180.27,570.66 L186.54,570.12 L192.81,569.60 L199.09,569.07 L205.36,568.56 L211.64,568.04 L217.91,567.54 L224.19,567.03 L230.46,566.54 L236.74,566.05 L243.01,565.56 L249.28,565.08 L255.56,564.60 L261.83,564.13 L268.11,563.66 L274.38,563.20 L280.66,562.74 L286.93,562.29 L293.21,561.85 L299.48,561.41 L305.75,560.97 L312.03,560.54 L318.30,560.12 L324.58,559.70 L330.85,559.29 L337.13,558.88 L343.40,558.48 L349.68,558.09 L355.95,557.70 L362.22,557.31 L368.50,556.93 L374.77,556.56 L381.05,556.19 L387.32,555.83 L393.60,555.48 L399.87,555.13 L406.15,554.79 L412.42,554.46 L418.69,554.13 L424.97,553.80 L431.24,553.49 L437.52,553.18 L443.79,552.88 L450.07,552.58 L456.34,552.30 L462.62,552.01 L468.89,551.74 L475.16,551.47 L481.44,551.22 L487.71,550.96 L493.99,550.72 L500.26,550.48 L506.54,550.26 L512.81,550.04 L519.09,549.82 L525.36,549.62 L531.63,549.42 L537.91,549.24 L544.18,549.06 L550.46,548.89 L556.73,548.73 L563.01,548.57 L569.28,548.43 L575.56,548.30 L581.83,548.17 L588.10,548.06 L594.38,547.95 L600.65,547.86 L606.93,547.77 L613.20,547.70 L619.48,547.63 L625.75,547.58 L632.02,547.54 L638.30,547.50 L644.57,547.48 L650.85,547.47 L657.12,547.47 L663.40,547.49 L669.67,547.51 L675.95,547.54 L682.22,547.59 L688.49,547.65 L694.77,547.73 L701.04,547.81 L707.32,547.91 L713.59,548.02 L719.87,548.14 L726.14,548.28 L732.42,548.43 L738.69,548.60 L744.96,548.77 L751.24,548.97 L757.51,549.18 L763.79,549.40 L770.06,549.63 L776.34,549.89 L782.61,550.15 L788.89,550.43 L795.16,550.73 L801.43,551.05 L807.71,551.38 L813.98,551.72 L820.26,552.09 L826.53,552.47 L832.81,552.86 L839.08,553.28 L845.36,553.71 L851.63,554.16 L857.90,554.63 L864.18,555.12 L870.45,555.62 L876.73,556.15" fill="none" stroke="#0a4685" stroke-width="2.4" stroke-linecap="round"/>
<path d="M51.50,637.47 L52.87,637.45 L54.25,637.43 L55.62,637.41 L56.99,637.39 L58.36,637.38 L59.74,637.36 L61.11,637.34 L62.48,637.32 L63.86,637.30 L65.23,637.29 L66.60,637.27 L67.97,637.25 L69.35,637.23 L70.72,637.22 L72.09,637.20 L73.47,637.18 L74.84,637.16 L76.21,637.14 L77.58,637.13 L78.96,637.11 L80.33,637.09 L81.70,637.07 L83.08,637.06 L84.45,637.04 L85.82,637.02 L87.19,637.01 L88.57,636.99 L89.94,636.97 L91.31,636.95 L92.69,636.94 L94.06,636.92 L95.43,636.90 L96.81,636.88 L98.18,636.87 L99.55,636.85 L100.92,636.83 L102.30,636.82 L103.67,636.80 L105.04,636.78 L106.42,636.77 L107.79,636.75 L109.16,636.73 L110.53,636.71 L111.91,636.70 L113.28,636.68 L114.65,636.66 L116.03,636.65 L117.40,636.63 L118.77,636.61 L120.14,636.60 L121.52,636.58 L122.89,636.56 L124.26,636.55 L125.64,636.53 L127.01,636.51 L128.38,636.50 L129.75,636.48 L131.13,636.46 L132.50,636.45" fill="none" stroke="#000" stroke-width="1"/>
<path d="M130.07,636.48 L136.34,636.40 L142.62,636.32 L148.89,636.25 L155.17,636.17 L161.44,636.10 L167.72,636.03 L173.99,635.95 L180.27,635.88 L186.54,635.81 L192.81,635.73 L199.09,635.66 L205.36,635.59 L211.64,635.52 L217.91,635.44 L224.19,635.37 L230.46,635.30 L236.74,635.23 L243.01,635.16 L249.28,635.08 L255.56,635.01 L261.83,634.94 L268.11,634.87 L274.38,634.80 L280.66,634.72 L286.93,634.65 L293.21,634.58 L299.48,634.51 L305.75,634.44 L312.03,634.36 L318.30,634.29 L324.58,634.22 L330.85,634.14 L337.13,634.07 L343.40,634.00 L349.68,633.92 L355.95,633.85 L362.22,633.77 L368.50,633.70 L374.77,633.62 L381.05,633.55 L387.32,633.47 L393.60,633.40 L399.87,633.32 L406.15,633.24 L412.42,633.16 L418.69,633.09 L424.97,633.01 L431.24,632.93 L437.52,632.85 L443.79,632.77 L450.07,632.69 L456.34,632.60 L462.62,632.52 L468.89,632.44 L475.16,632.35 L481.44,632.27 L487.71,632.18 L493.99,632.10 L500.26,632.01 L506.54,631.92 L512.81,631.84 L519.09,631.75 L525.36,631.66 L531.63,631.57 L537.91,631.47 L544.18,631.38 L550.46,631.29 L556.73,631.19 L563.01,631.10 L569.28,631.00 L575.56,630.90 L581.83,630.80 L588.10,630.71 L594.38,630.60 L600.65,630.50 L606.93,630.40 L613.20,630.30 L619.48,630.19 L625.75,630.08 L632.02,629.98 L638.30,629.87 L644.57,629.76 L650.85,629.65 L657.12,629.53 L663.40,629.42 L669.67,629.31 L675.95,629.19 L682.22,629.07 L688.49,628.95 L694.77,628.83 L701.04,628.71 L707.32,628.59 L713.59,628.46 L719.87,628.33 L726.14,628.21 L732.42,628.08 L738.69,627.95 L744.96,627.81 L751.24,627.68 L757.51,627.54 L763.79,627.41 L770.06,627.27 L776.34,627.13 L782.61,626.98 L788.89,626.84 L795.16,626.70 L801.43,626.55 L807.71,626.40 L813.98,626.25 L820.26,626.10 L826.53,625.94 L832.81,625.78 L839.08,625.63 L845.36,625.47 L851.63,625.30 L857.90,625.14 L864.18,624.97 L870.45,624.81 L876.73,624.64" fill="none" stroke="#000" stroke-width="3.6" stroke-linecap="round"/>
<text x="865" y="539" font-family="Liberation Sans, sans-serif" font-size="16" style="fill:#0a4685">P1</text>
<text x="865" y="572" font-family="Liberation Sans, sans-serif" font-size="16" style="fill:#0a4685">P2</text>
<circle cx="706.79" cy="540.05" r="6" fill="#ff0000"/>
<circle cx="706.79" cy="547.98" r="6" fill="#ff0000"/>
<circle cx="706.79" cy="628.53" r="6" fill="#ff0000"/>
<rect x="51" y="678" width="907" height="103" fill="#fefefe"/>
<text x="54" y="695" font-family="Liberation Sans, sans-serif" font-size="16">P1 = 13.02 kW</text>
<text x="54" y="716" font-family="Liberation Sans, sans-serif" font-size="16">P2 = 12.2 kW</text>
<text x="54" y="737.9" font-family="Liberation Sans, sans-serif" font-size="16">NPSH = 3.87 m</text>
<text x="54" y="758.8" font-family="Liberation Sans, sans-serif" font-size="16">Max power P2 required along the curve = 12.21 kW</text>
</svg></body></html>
